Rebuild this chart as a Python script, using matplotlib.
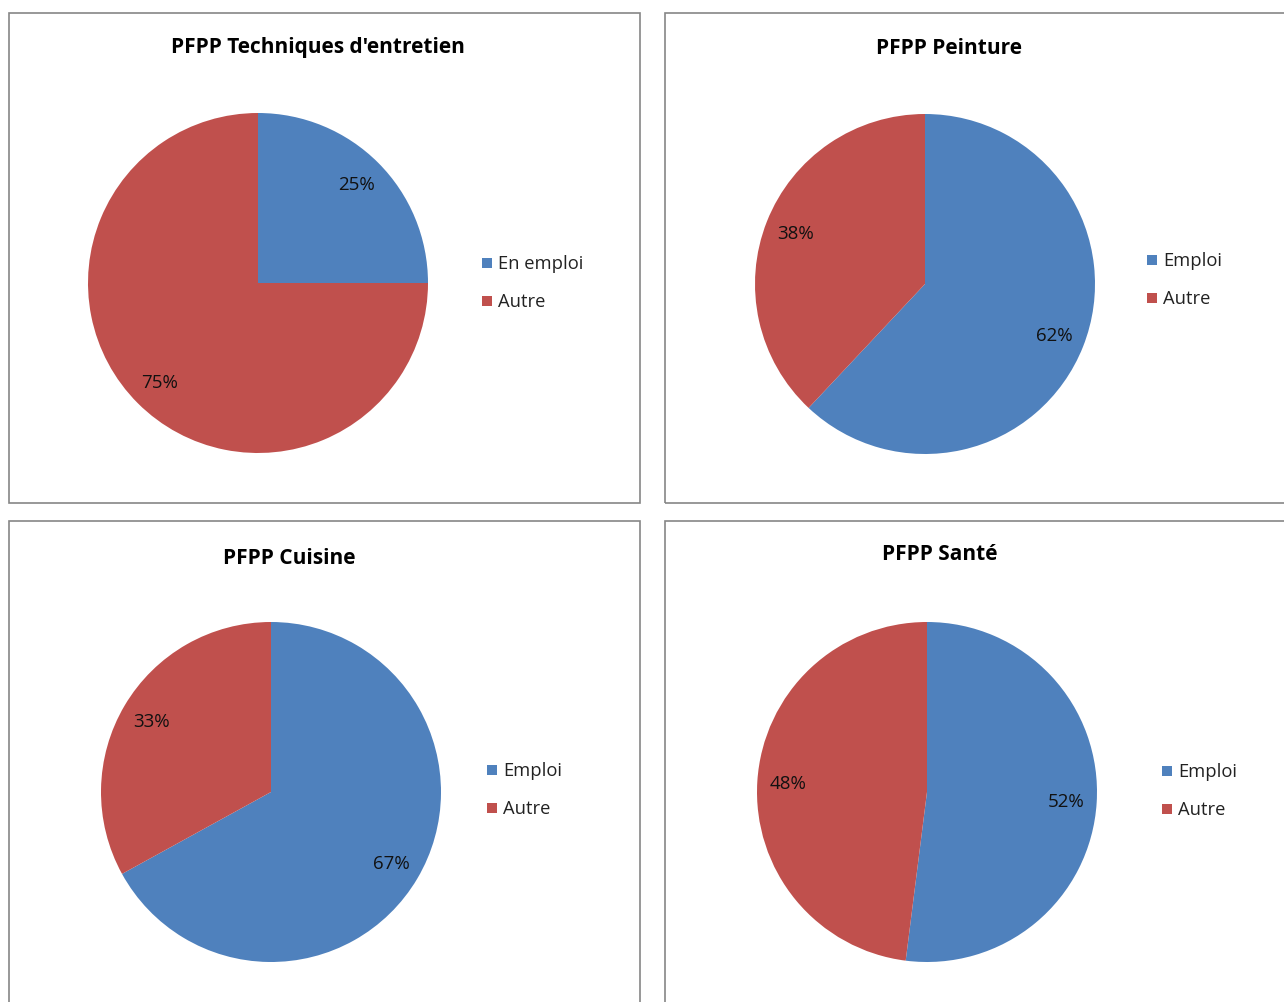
import matplotlib
matplotlib.use("Agg")
import matplotlib.pyplot as plt
from matplotlib.patches import Rectangle

plt.rcParams['font.family'] = ['Open Sans', 'DejaVu Sans']

titles = ["PFPP Techniques d'entretien", "PFPP Peinture", "PFPP Cuisine", "PFPP Santé"]
labels = [["En emploi", "Autre"], ["Emploi", "Autre"], ["Emploi", "Autre"], ["Emploi", "Autre"]]
values = [[25, 75], [62, 38], [67, 33], [52, 48]]
colors = ["#4F81BD", "#C0504D"]

W, H = 1284, 1003
fig = plt.figure(figsize=(W / 100, H / 100), dpi=100)
ax = fig.add_axes([0, 0, 1, 1])
ax.set_xlim(0, W)
ax.set_ylim(0, H)
ax.set_aspect('equal')
ax.axis('off')

def Y(y):
    return H - y - 1

# panel layout (pixel coords, image origin top-left)
panels = [
    dict(box=(9, 13, 640, 503), center=(258, 283), title=(318, 46), leg=(487, 263)),
    dict(box=(665, 13, 1292, 503), center=(925, 284), title=(949, 47), leg=(1152, 260)),
    dict(box=(9, 521, 640, 1012), center=(271, 792), title=(289, 558), leg=(492, 770)),
    dict(box=(665, 521, 1292, 1012), center=(927, 792), title=(940, 554), leg=(1167, 771)),
]
R = 170

for p, t, labs, vals in zip(panels, titles, labels, values):
    x0, y0, x1, y1 = p['box']
    ax.add_patch(Rectangle((x0, Y(y1)), x1 - x0, y1 - y0, fill=False,
                           edgecolor="#868686", linewidth=1.2))
    cx, cy = p['center']
    wedges, texts, autotexts = ax.pie(vals, colors=colors, startangle=90, counterclock=False,
                                      center=(cx, Y(cy)), radius=R, autopct='%d%%',
                                      pctdistance=0.82, frame=True,
                                      textprops=dict(fontsize=13.5, color='#111111'))
    ax.text(p['title'][0], Y(p['title'][1]), t, ha='center', va='center',
            fontsize=15, fontweight='bold', color='black')
    lx, ly = p['leg']
    for i, (lab, col) in enumerate(zip(labs, colors)):
        yy = ly + i * 38
        ax.add_patch(Rectangle((lx - 5, Y(yy) - 5), 10, 10, facecolor=col, edgecolor='none'))
        ax.text(lx + 11, Y(yy), lab, ha='left', va='center', fontsize=13.2, color='#222222')

ax.set_xlim(0, W)
ax.set_ylim(0, H)
ax.axis('off')
fig.savefig("out.png", dpi=100)
